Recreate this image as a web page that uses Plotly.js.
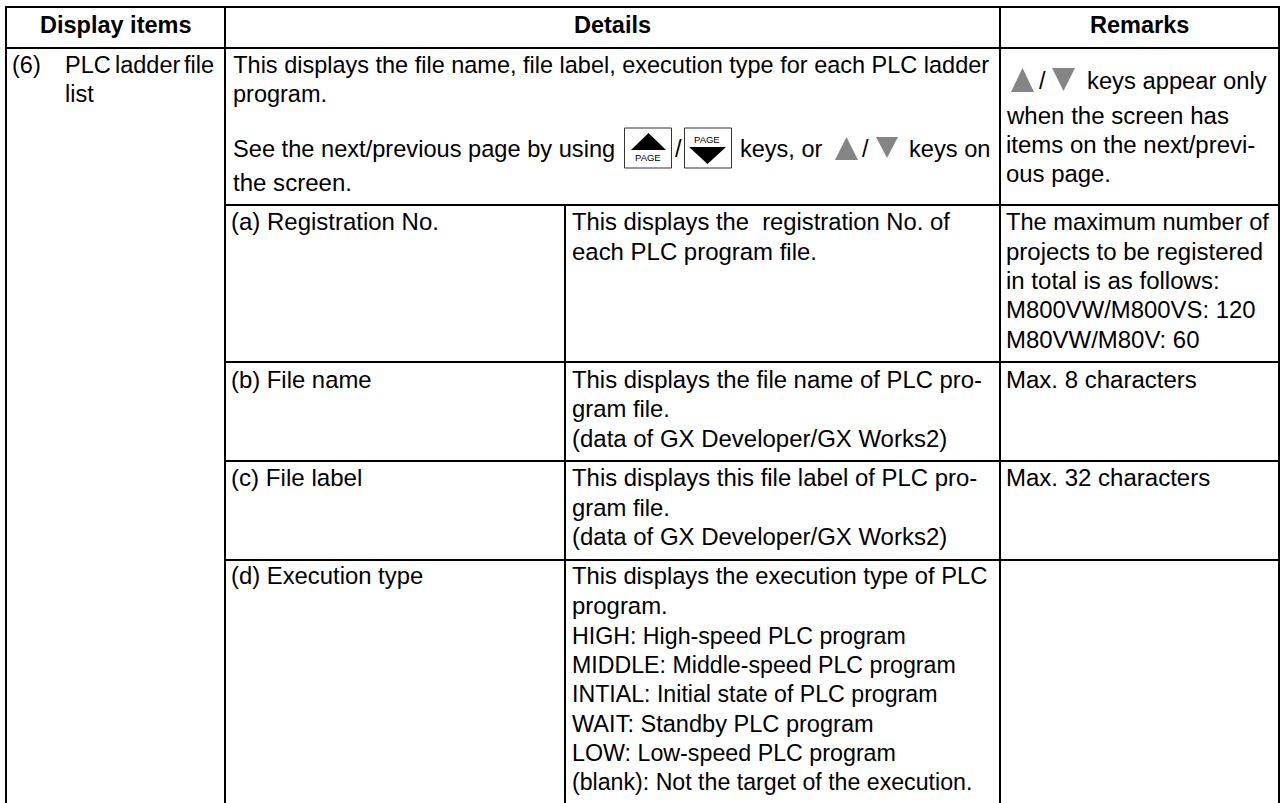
<!DOCTYPE html>
<html><head><meta charset="utf-8">
<script src="https://cdn.plot.ly/plotly-3.0.1.min.js"></script>
<style>html,body{margin:0;padding:0;background:#fff}</style></head>
<body><div id="chart" style="width:1281px;height:803px"></div>
<script>
const headerLabels = ["Display items","Details","Remarks"];
const headerCenters = [115.5,612.3,1139.7];
const headerBaseline = 33;
// [left x, baseline y, text, right edge of the ink (optional)]
const displayItemText = [[11.5,73,"(6)"],[65,73,"PLC"],[114.5,73,"ladder"],[183.5,73,"file"],[65,102,"list"]];
const detailsText = [
 [232.5,73,"This displays the file name, file label, execution type for each PLC ladder",989],
 [232.5,102,"program."],
 [232.5,157,"See the next/previous page by using",614],
 [675,157,"/"],[740,157,"keys, or",822.5],[862,157,"/"],[908.5,157,"keys on",989],
 [232.5,191,"the screen.",350]
];
const subItemText = [[230.5,230,"(a) Registration No.",437],[230.5,388,"(b) File name",371],[230.5,486,"(c) File label",360.7],[230.5,584,"(d) Execution type",422.7]];
const subDetailText = [
 [571.5,230,"This displays the\u00a0 registration No. of",950],[571.5,260,"each PLC program file.",815],
 [571.5,388,"This displays the file name of PLC pro-",981],[571.5,417,"gram file.",668],[571.5,447,"(data of GX Developer/GX Works2)",946],
 [571.5,486,"This displays this file label of PLC pro-",976],[571.5,516,"gram file.",668],[571.5,545,"(data of GX Developer/GX Works2)",946],
 [571.5,584,"This displays the execution type of PLC",987],[571.5,614,"program.",665.7],
 [571.5,644,"HIGH: High-speed PLC program",905],[571.5,673,"MIDDLE: Middle-speed PLC program",955],
 [571.5,702,"INTIAL: Initial state of PLC program",936.7],[571.5,732,"WAIT: Standby PLC program",872.7],
 [571.5,761,"LOW: Low-speed PLC program",895],[571.5,790,"(blank): Not the target of the execution.",970.7]
];
const remarksText = [
 [1039,89,"/"],[1087,89,"keys appear only",1267],
 [1005.5,124,"when the screen has",1226.7],[1005.5,153,"items on the next/previ-",1254],[1005.5,182,"ous page.",1109],
 [1005.5,230,"The maximum number of",1269],[1005.5,260,"projects to be registered",1261.7],[1005.5,289,"in total is as follows:",1217.7],
 [1005.5,318,"M800VW/M800VS: 120",1255],[1005.5,348,"M80VW/M80V: 60",1199],
 [1005.5,388,"Max. 8 characters",1195.7],[1005.5,486,"Max. 32 characters",1209]
];
const pageLabels = [[647.5,157.7,"PAGE"],[707,139.3,"PAGE"]];
// grid
const fullRules = [7,48];
const subRules = [205,362,461,560];
const columnRules = [[6,6],[225,6],[1000,6],[1279,6],[565,205]];
const gridLeft=5, gridRight=1280, subLeft=224, gridBottom=803;
// key boxes [x0,x1,y0,y1]
const keyBoxes = [[624.5,671.5,128,168],[684.5,731.5,128,168]];
// triangles [x0,x1,yBase,yTip]
const blackTriangles = [[631,666,150,133],[689,726,147,164]];
const grayTriangles = [[835,858,160,137],[876,898,137,158],[1011,1034,92,68],[1052,1075,68,91]];

const FAM="Liberation Sans, Arial, sans-serif", SIZE=23.5, ASC=8.1;
const font={family:FAM,size:SIZE,color:"#000"};
const ctx=document.createElement("canvas").getContext("2d");
ctx.font=SIZE+'px "Liberation Sans"';
function fitSize(r){
  if(r[3]===undefined) return SIZE;
  const w=ctx.measureText(r[2]).actualBoundingBoxRight;
  const s=SIZE*(r[3]-r[0])/w;
  return Math.min(SIZE*1.04,Math.max(SIZE*0.96,s));
}
const ann=[];
headerLabels.forEach((t,i)=>ann.push({x:headerCenters[i],y:headerBaseline-ASC,text:"<b>"+t+"</b>",showarrow:false,xanchor:"center",yanchor:"middle",font:font}));
[displayItemText,detailsText,subItemText,subDetailText,remarksText].forEach(g=>g.forEach(r=>
 ann.push({x:r[0],y:r[1]-ASC,text:r[2],showarrow:false,xanchor:"left",yanchor:"middle",xshift:-2,font:{family:FAM,size:fitSize(r),color:"#000"}})));
pageLabels.forEach(r=>ann.push({x:r[0],y:r[1],text:r[2],showarrow:false,xanchor:"center",yanchor:"middle",font:{family:FAM,size:9.5,color:"#000"}}));
const rule={color:"#000",width:2};
const shapes=[];
fullRules.forEach(y=>shapes.push({type:"line",x0:gridLeft,x1:gridRight,y0:y,y1:y,line:rule}));
subRules.forEach(y=>shapes.push({type:"line",x0:subLeft,x1:gridRight,y0:y,y1:y,line:rule}));
columnRules.forEach(c=>shapes.push({type:"line",x0:c[0],x1:c[0],y0:c[1],y1:gridBottom,line:rule}));
keyBoxes.forEach(b=>shapes.push({type:"rect",x0:b[0],x1:b[1],y0:b[2],y1:b[3],line:{color:"#333",width:1}}));
const tri=(t,col)=>({x:[t[0],t[1],(t[0]+t[1])/2,t[0]],y:[t[2],t[2],t[3],t[2]],mode:"lines",fill:"toself",fillcolor:col,line:{width:0,color:col},hoverinfo:"skip"});
const traces=[...blackTriangles.map(t=>tri(t,"#000")),...grayTriangles.map(t=>tri(t,"#858585"))];
Plotly.newPlot("chart",traces,{
 width:1281,height:803,margin:{l:0,r:0,t:0,b:0},paper_bgcolor:"#fff",plot_bgcolor:"#fff",showlegend:false,
 xaxis:{range:[0,1281],visible:false,fixedrange:true},yaxis:{range:[803,0],visible:false,fixedrange:true},
 annotations:ann,shapes:shapes},{staticPlot:true});
</script></body></html>
